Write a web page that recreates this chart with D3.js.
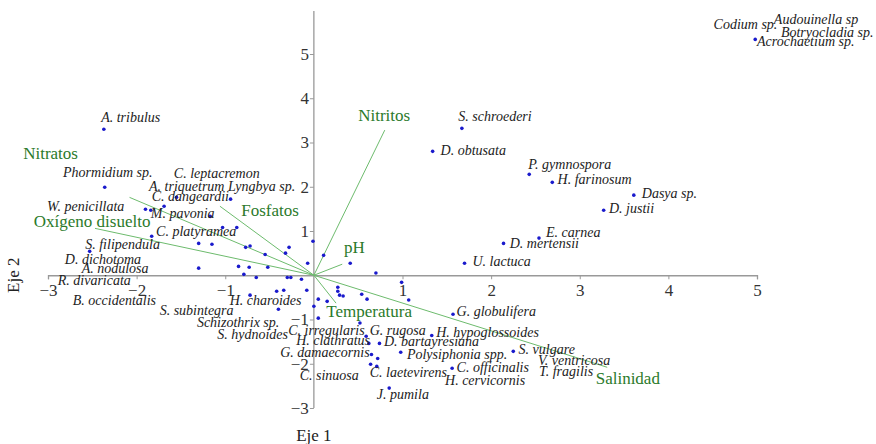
<!DOCTYPE html>
<html>
<head>
<meta charset="utf-8">
<script src="https://cdn.jsdelivr.net/npm/d3@7"></script>
<style>
  body { margin: 0; background: #fff; }
</style>
</head>
<body>
<div id="chart"></div>
<script>
// species scores (Eje 1, Eje 2)
var speciesPoints = [
  [-2.37, 3.30], [-2.36, 1.99], [-1.90, 1.49], [-1.84, 1.47], [-1.69, 1.56], [-1.55, 1.76],
  [-0.94, 1.72], [-1.17, 1.33], [-1.83, 0.88], [-2.53, 0.54], [-1.30, 0.72], [-1.15, 0.70],
  [-1.03, 1.08], [-0.87, 1.08], [-0.77, 0.63], [-0.72, 0.66], [-0.55, 0.47], [-0.32, 0.50],
  [-0.28, 0.63], [-0.01, 0.77], [-0.07, 0.27], [-1.30, 0.16], [-0.85, 0.20], [-0.73, 0.18],
  [-0.52, 0.18], [-0.79, 0.02], [-0.65, -0.05], [-0.30, -0.05], [-0.26, -0.05], [-0.14, -0.09],
  [0.11, 0.45], [0.41, 0.27], [0.70, 0.05], [0.99, -0.16], [-0.72, -0.45], [-0.42, -0.36],
  [-0.34, -0.34], [-0.08, -0.34], [-0.40, -0.77], [0.05, -0.54], [0.00, -0.70], [0.15, -0.59],
  [0.05, -0.97], [0.27, -0.27], [0.27, -0.36], [0.29, -0.45], [0.33, -0.47], [0.54, -0.43],
  [0.60, -0.54], [1.07, -0.56], [0.52, -1.08], [0.59, -1.38], [0.62, -1.54], [0.74, -1.54],
  [0.65, -1.79], [0.72, -1.88], [0.64, -2.01], [0.71, -2.06], [0.98, -1.74], [0.85, -2.55],
  [1.57, -0.88], [1.33, -1.36], [2.25, -1.72], [1.56, -2.10], [1.67, 3.32], [1.34, 2.80],
  [2.43, 2.28], [2.69, 2.10], [3.61, 1.81], [3.27, 1.47], [2.54, 0.84], [2.14, 0.72],
  [1.70, 0.27], [4.98, 5.33]
];

// species names and where their text starts (axis units)
var speciesLabels = [
  ["A. tribulus", -2.40, 3.46], ["Phormidium sp.", -2.83, 2.21], ["C. leptacremon", -1.58, 2.19],
  ["A. triquetrum", -1.86, 1.90], ["Lyngbya sp.", -0.97, 1.90], ["C. dangeardii", -1.83, 1.67],
  ["W. penicillata", -3.01, 1.45], ["M. pavonia", -1.84, 1.29], ["C. platyramea", -1.78, 0.88],
  ["S. filipendula", -2.58, 0.59], ["D. dichotoma", -2.81, 0.25], ["A. nodulosa", -2.62, 0.05],
  ["R. divaricata", -2.89, -0.23], ["B. occidentalis", -2.72, -0.68], ["S. subintegra", -1.74, -0.90],
  ["H. charoides", -0.95, -0.68], ["Schizothrix sp.", -1.32, -1.18], ["S. hydnoides", -1.09, -1.45],
  ["C. irregularis", -0.29, -1.36], ["G. rugosa", 0.63, -1.36], ["H. hypoglossoides", 1.38, -1.40],
  ["H. clathratus", -0.20, -1.58], ["D. bartayresiana", 0.79, -1.60], ["G. damaecornis", -0.38, -1.85],
  ["Polysiphonia spp.", 1.05, -1.90], ["S. vulgare", 2.31, -1.79], ["V. ventricosa", 2.53, -2.03],
  ["C. officinalis", 1.61, -2.19], ["T. fragilis", 2.54, -2.28], ["C. laetevirens", 0.63, -2.31],
  ["H. cervicornis", 1.48, -2.49], ["C. sinuosa", -0.16, -2.37], ["J. pumila", 0.71, -2.80],
  ["G. globulifera", 1.61, -0.93], ["S. schroederi", 1.63, 3.48], ["D. obtusata", 1.43, 2.71],
  ["P. gymnospora", 2.42, 2.40], ["H. farinosum", 2.75, 2.06], ["Dasya sp.", 3.70, 1.74],
  ["D. justii", 3.33, 1.40], ["E. carnea", 2.62, 0.86], ["D. mertensii", 2.21, 0.61],
  ["U. lactuca", 1.79, 0.20], ["Codium sp.", 4.51, 5.56], ["Audouinella sp", 5.19, 5.67],
  ["Botryocladia sp.", 5.27, 5.38], ["Acrochaetium sp.", 5.00, 5.18]
];

// environmental variables: arrow tips and label anchors
var envNames = ["Nitratos", "Oxígeno disuelto", "Fosfatos", "Nitritos", "pH", "Temperatura", "Salinidad"];
var envTips = [[-2.08, 1.76], [-2.47, 1.06], [-1.06, 1.56], [0.80, 3.28], [0.32, 0.25], [0.25, -0.63], [3.31, -2.08]];
var envLabelPos = [[-3.28, 2.62], [-3.16, 1.08], [-0.82, 1.33], [0.50, 3.48], [0.34, 0.50], [0.14, -0.95], [3.18, -2.46]];

var xTicks = [-3, -2, -1, 1, 2, 3, 4, 5];
var yTicks = [-3, -2, -1, 1, 2, 3, 4, 5];
var yTop = 5.97;

var width = 876, height = 444;
var serif = "'Liberation Serif', 'Times New Roman', Times, 'DejaVu Serif', serif";

var svg = d3.select("#chart").append("svg")
  .attr("width", width)
  .attr("height", height);

var x = d3.scaleLinear().domain([-3, 5]).range([48, 757]);
var y = d3.scaleLinear().domain([-3, 5]).range([408, 54]);

// axes through the origin
var xAxis = svg.append("g")
  .attr("transform", "translate(0," + y(0) + ")")
  .call(d3.axisBottom(x).tickValues(xTicks).tickSize(4).tickPadding(5).tickFormat(d3.format("d")));
xAxis.select(".domain").attr("stroke", "#999").attr("stroke-width", 1.3);

var yAxis = svg.append("g")
  .attr("transform", "translate(" + x(0) + ",0)")
  .call(d3.axisLeft(y).tickValues(yTicks).tickSize(4).tickPadding(1).tickFormat(d3.format("d")));
yAxis.select(".domain").remove();
yAxis.append("line")
  .attr("y1", y(-3)).attr("y2", y(yTop))
  .attr("stroke", "#999").attr("stroke-width", 1.3);

svg.selectAll("g").attr("font-family", serif);
svg.selectAll(".tick line").attr("stroke", "#999");
svg.selectAll(".tick text")
  .attr("fill", "#333")
  .attr("font-family", serif)
  .attr("font-size", 17);

// environmental vectors
svg.append("g").selectAll("line")
  .data(envTips)
  .enter().append("line")
  .attr("x1", x(0)).attr("y1", y(0))
  .attr("x2", d => x(d[0])).attr("y2", d => y(d[1]))
  .attr("stroke", "#6dbb6d")
  .attr("stroke-width", 1);

svg.append("g").selectAll("text")
  .data(envNames)
  .enter().append("text")
  .attr("x", (d, i) => x(envLabelPos[i][0]))
  .attr("y", (d, i) => y(envLabelPos[i][1]))
  .attr("fill", "#2b7a2b")
  .attr("font-family", serif)
  .attr("font-size", 17)
  .text(d => d);

// species points
svg.append("g").selectAll("circle")
  .data(speciesPoints)
  .enter().append("circle")
  .attr("cx", d => x(d[0]))
  .attr("cy", d => y(d[1]))
  .attr("r", 1.8)
  .attr("fill", "#1a1acc");

svg.append("g").selectAll("text")
  .data(speciesLabels)
  .enter().append("text")
  .attr("x", d => x(d[1]))
  .attr("y", d => y(d[2]))
  .attr("fill", "#222")
  .attr("font-family", serif)
  .attr("font-style", "italic")
  .attr("font-size", 14)
  .text(d => d[0]);

// axis titles
svg.append("text")
  .attr("x", x(0))
  .attr("y", 441)
  .attr("text-anchor", "middle")
  .attr("fill", "#222")
  .attr("font-family", serif)
  .attr("font-size", 17)
  .text("Eje 1");

svg.append("text")
  .attr("transform", "translate(19," + y(0) + ") rotate(-90)")
  .attr("text-anchor", "middle")
  .attr("fill", "#222")
  .attr("font-family", serif)
  .attr("font-size", 17)
  .text("Eje 2");
</script>
</body>
</html>
